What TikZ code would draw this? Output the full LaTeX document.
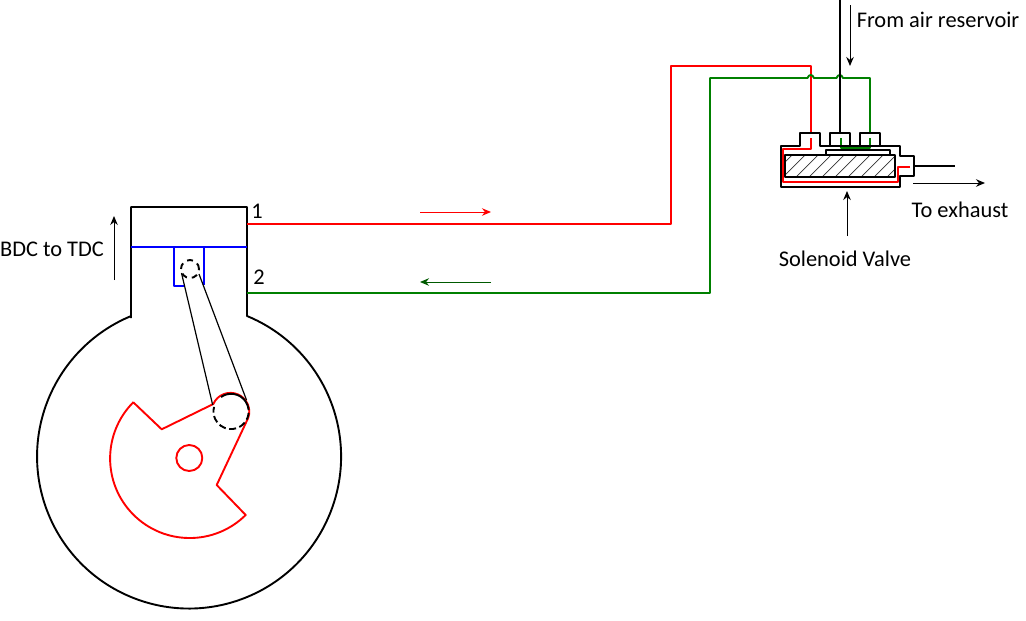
\documentclass[tikz,border=0pt]{standalone}
\usepackage{fontspec}
\setmainfont{Carlito}
\usetikzlibrary{arrows.meta}
\definecolor{pipegreen}{RGB}{0,128,0}
\begin{document}
\begin{tikzpicture}[x=1pt,y=-1pt,>={Stealth[length=9pt,width=7.5pt]},line join=round,semithick]
  \tikzstyle{engine}=[draw=black,line width=1.9pt]
  \tikzstyle{thinline}=[draw=black,line width=1.2pt]
  \tikzstyle{redline}=[draw=red,line width=1.9pt]
  \tikzstyle{greenline}=[draw=pipegreen,line width=1.9pt]
  \tikzstyle{blueline}=[draw=blue,line width=1.9pt]
  \tikzstyle{label}=[font=\fontsize{22.4}{24}\selectfont,inner sep=0pt]
  \tikzstyle{flow}=[->,line width=1pt]
  \useasboundingbox (0,0) rectangle (1026,621);

  % named points
  \coordinate (port1) at (247,224);
  \coordinate (port2) at (247,293);
  \coordinate (redTop) at (811,66);
  \coordinate (redIn) at (811,133);
  \coordinate (greenIn) at (870,133);
  \coordinate (airTop) at (840,0);
  \coordinate (airIn) at (840,133);
  \coordinate (exhOut) at (914,166);
  \coordinate (exhEnd) at (955,166);

  % engine body
  \draw[engine] (131,318) -- (131,207) -- (247,207) -- (247,316)
    arc[start angle=67.6,end angle=-247.6,radius=152pt] ;
  \draw[blueline] (131,247) -- (247,247);
  \draw[blueline] (174,247) -- (174,286) -- (185,286);
  \draw[blueline] (204,247) -- (204,285);

  % crank
  \draw[redline] (133.3,402.3) -- (161.7,429.3) -- (213.3,404)
    arc[start angle=156,end angle=-20,radius=18.8pt]
    -- (216.7,485) -- (245.7,515)
    arc[start angle=314.7,end angle=135,radius=79.6pt] ;
  \draw[redline] (202.3,458) arc[start angle=0,end angle=360,radius=13pt];

  % rod
  \draw[thinline] (181.5,273) -- (212.7,405);
  \draw[thinline] (199,274) -- (246.5,400);
  \draw[engine,dash pattern=on 6pt off 5pt] (199,269) arc[start angle=0,end angle=360,radius=9pt];
  \draw[engine] (221,397) arc[start angle=125,end angle=5,radius=17.6pt];
  \draw[engine,dash pattern=on 7pt off 3.5pt] (248.6,413) arc[start angle=-5,end angle=-195,radius=17.6pt];

  % pipes
  \draw[redline] (port1) -- (671,224) -- (671,66) -- (redTop) -- (redIn);
  \draw[redline] (811,138) -- (811,149) -- (783,149) -- (783,182) -- (898,182) -- (898,167) -- (910,167);
  \draw[greenline] (port2) -- (710,293) -- (710,78) -- (807.5,78)
    .. controls (809,74) and (812.5,74) .. (814,78) -- (836.5,78)
    .. controls (838,74) and (841.5,74) .. (843,78) -- (870,78) -- (greenIn);
  \draw[greenline] (870,138) -- (870,148) -- (841,148) -- (841,138);
  \draw[engine] (airTop) -- (airIn);

  % valve
  \draw[engine] (781,187) -- (781,146) -- (800,146) -- (800,133) -- (820,133) -- (820,146)
    -- (830,146) -- (830,133) -- (850,133) -- (850,146) -- (860,146) -- (860,133) -- (880,133)
    -- (880,146) -- (900,146) -- (900,156) -- (914,156) -- (914,176) -- (900,176) -- (900,187) -- cycle;
  \draw[engine] (826,155) -- (826,150) -- (890,150) -- (890,155);
  \draw[thinline] (826,146) -- (890,146);
  \begin{scope}
    \clip (785,155) rectangle (895,177);
    \foreach \hx in {770,783,...,900}
      \draw[draw=black!80,line width=.7pt] (\hx,177) -- +(24,-24);
  \end{scope}
  \draw[engine] (785,155) rectangle (895,177);
  \draw[engine] (exhOut) -- (exhEnd);

  % arrows
  \coordinate (a1) at (114,280); \coordinate (a2) at (114,216);
  \coordinate (b1) at (420,212); \coordinate (b2) at (491,212);
  \coordinate (c1) at (491,282); \coordinate (c2) at (420,282);
  \coordinate (d1) at (850,5); \coordinate (d2) at (850,66);
  \coordinate (e1) at (913,183); \coordinate (e2) at (985,183);
  \coordinate (f1) at (847,236); \coordinate (f2) at (847,191);
  \draw[flow] (a1) -- (a2);
  \draw[flow,red] (b1) -- (b2);
  \draw[flow,pipegreen!70!black] (c1) -- (c2);
  \draw[flow] (d1) -- (d2);
  \draw[flow] (e1) -- (e2);
  \draw[flow] (f1) -- (f2);

  % labels
  \node[label] (n1) at (257,211) {1};
  \node[label] (n2) at (259,277) {2};
  \node[label] (dir) at (52,249) {BDC to TDC};
  \node[label] (air) at (938,20) {From air reservoir};
  \node[label] (exh) at (960,210) {To exhaust};
  \node[label] (sol) at (845,259) {Solenoid Valve};
\end{tikzpicture}
\end{document}
